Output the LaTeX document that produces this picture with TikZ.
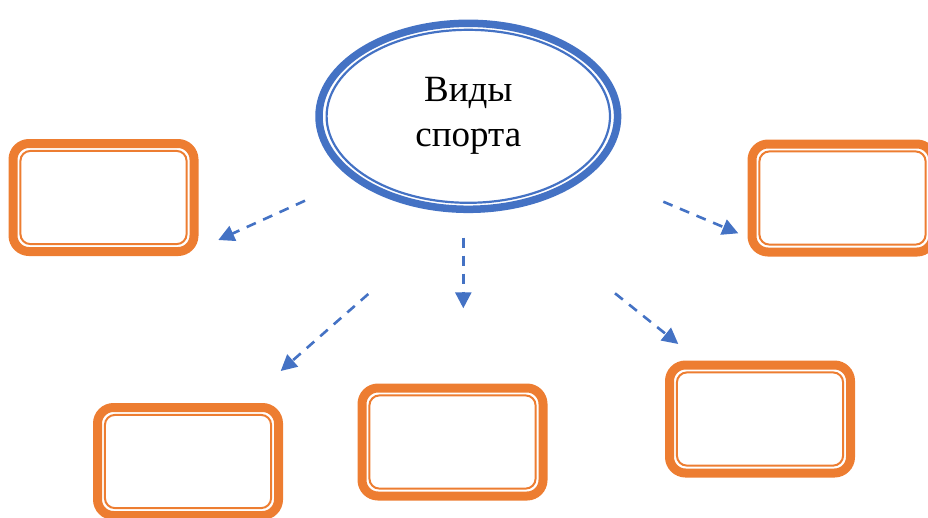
\documentclass[tikz,border=0pt]{standalone}
\usepackage{fontspec}
\setmainfont{Liberation Serif}
\usetikzlibrary{shapes.geometric,arrows.meta}
\definecolor{offblue}{HTML}{4472C4}
\definecolor{offorange}{HTML}{ED7D31}
\tikzset{
  ovalbox/.style={ellipse,draw=offblue,line width=7.5pt,minimum width=298.6pt,minimum height=186pt,inner sep=0pt,outer sep=0pt,align=center,font=\fontsize{37}{45}\selectfont},
  ovalinner/.style={draw=offblue,line width=2.2pt},
  framebox/.style={rectangle,draw=offorange,line width=9pt,rounded corners=16pt,minimum width=181pt,minimum height=108pt,inner sep=0pt,outer sep=0pt},
  frameinner/.style={draw=offorange,line width=2pt,rounded corners=10pt},
  dasharrow/.style={draw=offblue,line width=2.6pt,dash pattern=on 10pt off 8pt,-{Triangle[length=16pt,width=16pt]}}
}
\newcommand{\innerframe}[1]{\draw[frameinner] ([xshift=7.4pt,yshift=-7.4pt]#1.north west) rectangle ([xshift=-7.4pt,yshift=7.4pt]#1.south east);}
\begin{document}
\begin{tikzpicture}[x=1pt,y=-1pt]
\useasboundingbox (0,0) rectangle (928,517);
\node[ovalbox] (ell) at (468.3,116.3) {Виды\\спорта};
\draw[ovalinner] (ell.center) ellipse [x radius=141.7pt, y radius=86.5pt];
\node[framebox] (b1) at (103.5,197.5) {};
\node[framebox] (b2) at (842.5,198) {};
\node[framebox] (b3) at (188,461.5) {};
\node[framebox] (b4) at (452.5,442) {};
\node[framebox] (b5) at (760,419) {};
\innerframe{b1}
\innerframe{b2}
\innerframe{b3}
\innerframe{b4}
\innerframe{b5}
\coordinate (a1s) at (305,200.7);
\coordinate (a1e) at (218.3,240);
\coordinate (a2s) at (463.3,237.7);
\coordinate (a2e) at (463.3,308.3);
\coordinate (a3s) at (368.3,294);
\coordinate (a3e) at (280.7,371);
\coordinate (a4s) at (663.3,201.7);
\coordinate (a4e) at (738.3,233.3);
\coordinate (a5s) at (615,293.3);
\coordinate (a5e) at (678.3,344);
\draw[dasharrow] (a1s) -- (a1e);
\draw[dasharrow] (a2s) -- (a2e);
\draw[dasharrow] (a3s) -- (a3e);
\draw[dasharrow] (a4s) -- (a4e);
\draw[dasharrow] (a5s) -- (a5e);
\end{tikzpicture}
\end{document}
